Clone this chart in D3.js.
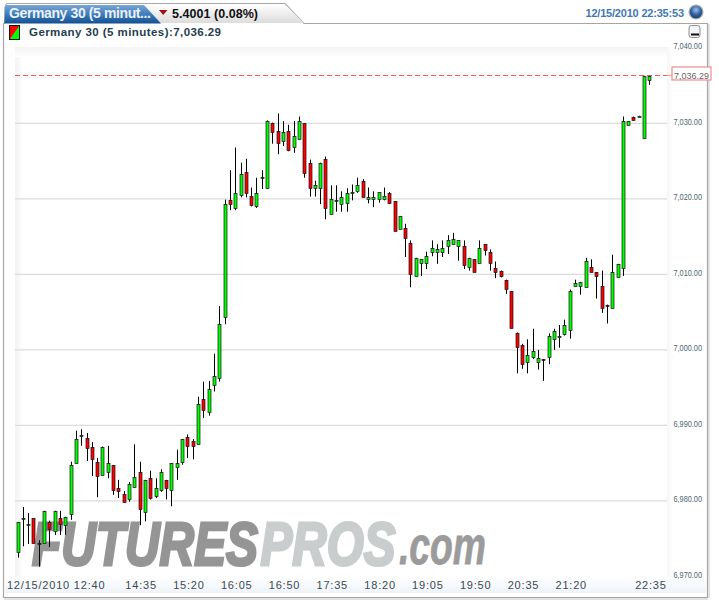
<!DOCTYPE html>
<html><head><meta charset="utf-8">
<script src="https://cdnjs.cloudflare.com/ajax/libs/d3/7.8.5/d3.min.js"></script>
<style>html,body{margin:0;padding:0;background:#fff}svg{display:block}text{font-family:"Liberation Sans",Arial,sans-serif}</style>
</head><body><div id="chart"></div>
<script>
const opens=[6973.3,6977.7,6977.0,6977.7,6974.4,6974.5,6977.2,6976.0,6977.7,6976.8,
6978.3,6985.0,6988.6,6988.4,6987.2,6985.2,6983.5,6983.8,6984.7,6981.7,
6980.9,6980.3,6981.8,6983.8,6978.5,6983.0,6980.7,6981.5,6982.8,6981.5,
6984.5,6985.2,6988.5,6988.0,6987.5,6993.5,6991.8,6995.3,6996.3,7004.3,
7019.8,7018.8,7020.5,7023.5,7020.4,7019.0,7022.8,7021.5,7030.0,7029.0,
7027.6,7029.0,7026.9,7027.9,7030.0,7024.8,7021.5,7021.4,7025.3,7018.0,
7019.8,7019.3,7019.5,7020.8,7021.0,7022.4,7020.0,7020.0,7020.0,7020.0,
7020.8,7019.7,7016.0,7016.2,7014.2,7009.8,7011.5,7011.5,7012.9,7012.9,
7013.0,7013.8,7014.0,7013.8,7013.8,7011.0,7012.0,7011.5,7014.0,7013.0,
7010.8,7010.5,7009.3,7007.8,7002.3,7000.6,6998.4,6999.1,6998.4,6998.8,
6999.1,7001.5,7001.8,7002.1,7002.6,7008.5,7008.5,7008.3,7011.0,7010.3,
7008.5,7006.0,7005.6,7009.7,7010.9,7029.8,7030.9,7030.9,7028.0,7035.7];
const closes=[6977.2,6977.8,6977.0,6974.5,6974.3,6978.7,6976.3,6978.7,6977.0,6977.9,
6984.7,6988.2,6988.7,6987.0,6985.5,6983.3,6987.2,6985.0,6981.5,6981.3,
6979.8,6982.2,6983.2,6979.0,6982.8,6980.4,6981.7,6983.8,6981.7,6985.0,
6985.0,6988.2,6987.3,6987.3,6992.9,6992.0,6994.8,6996.5,7003.4,7019.3,
7019.3,7020.8,7023.3,7020.8,7019.2,7020.8,7022.9,7030.3,7028.9,7027.4,
7028.8,7026.5,7028.3,7030.3,7023.4,7021.4,7021.8,7024.8,7018.8,7020.0,
7019.8,7020.3,7020.8,7020.9,7021.8,7020.3,7020.3,7020.3,7020.9,7020.4,
7019.5,7015.8,7017.7,7014.8,7010.0,7012.2,7012.0,7012.5,7013.5,7013.4,
7013.5,7014.5,7014.7,7014.5,7011.2,7012.2,7010.3,7013.5,7013.2,7011.5,
7010.3,7009.8,7008.0,7002.9,7000.4,6998.1,6999.3,6999.9,6998.9,6998.6,
7001.8,7002.5,7001.9,7003.3,7007.8,7008.8,7009.0,7011.8,7010.3,7009.8,
7005.6,7005.9,7010.3,7011.4,7030.3,7030.3,7030.4,7031.0,7036.3,7036.3];
const highs=[6977.2,6979.2,6978.4,6977.7,6974.8,6978.7,6977.4,6978.7,6978.7,6977.9,
6985.2,6989.3,6989.5,6989.0,6987.8,6985.7,6987.2,6987.3,6984.7,6982.8,
6981.3,6982.5,6987.5,6985.2,6982.8,6984.0,6983.0,6984.2,6982.8,6985.0,
6986.8,6988.2,6988.8,6988.2,6993.8,6995.8,6995.9,6999.5,7005.8,7019.9,
7023.8,7026.8,7024.8,7025.3,7021.5,7022.8,7023.8,7030.4,7030.1,7031.3,
7030.3,7029.8,7030.3,7030.9,7030.0,7025.2,7022.4,7024.8,7025.6,7021.8,
7021.8,7021.0,7021.4,7021.9,7022.8,7022.6,7021.5,7021.0,7020.9,7021.5,
7020.9,7019.7,7017.7,7016.7,7014.5,7012.2,7012.0,7013.0,7014.5,7014.0,
7014.5,7015.2,7015.5,7014.5,7014.5,7012.2,7012.0,7014.5,7014.0,7013.3,
7011.7,7010.5,7009.3,7007.8,7002.3,7000.8,7001.4,7002.8,7000.0,6998.8,
7002.2,7002.8,7003.3,7004.0,7008.0,7009.3,7009.0,7012.2,7012.0,7010.3,
7010.5,7006.0,7012.6,7011.4,7030.9,7030.3,7030.9,7031.0,7036.3,7036.3];
const lows=[6972.5,6974.0,6974.3,6974.4,6971.3,6974.5,6973.9,6975.5,6975.5,6975.5,
6977.5,6985.0,6987.3,6985.3,6983.3,6980.5,6983.5,6983.0,6980.8,6980.4,
6979.8,6979.9,6981.8,6976.8,6977.3,6980.2,6980.4,6981.2,6980.2,6979.3,
6982.8,6984.8,6985.7,6985.5,6987.5,6991.0,6991.3,6994.5,6995.8,7003.4,
7018.5,7018.5,7020.2,7020.2,7019.0,7018.8,7021.3,7021.3,7027.3,7025.9,
7027.0,7026.3,7026.1,7027.9,7022.8,7020.3,7020.3,7019.3,7017.3,7018.0,
7018.3,7018.3,7018.3,7019.8,7020.8,7020.3,7019.4,7018.9,7019.5,7019.8,
7019.3,7015.8,7016.0,7012.3,7008.3,7009.8,7009.8,7010.7,7012.4,7011.4,
7012.3,7012.7,7014.0,7011.8,7010.7,7010.5,7010.3,7011.5,7012.5,7010.5,
7009.5,7009.6,7007.4,7002.9,6996.9,6997.5,6996.9,6998.8,6997.4,6995.9,
6998.1,7000.0,7000.3,7001.9,7001.5,7008.5,7007.3,7008.3,7010.3,7006.8,
7004.9,7003.5,7005.6,7009.7,7009.8,7029.8,7030.4,7030.9,7028.0,7035.1];
const yTicks=[6970,6980,6990,7000,7010,7020,7030,7040];
const xTickIndex=[7,23,32,41,50,59,68,77,86,95,104,119];
const xTickLabels=["12/15/2010 12:40","14:35","15:20","16:05","16:50","17:35","18:20","19:05","19:50","20:35","21:20","22:35"];
const lastPrice=7036.29;
const title="Germany 30 (5 minut...", change="5.4001 (0.08%)", stamp="12/15/2010 22:35:53";
const legendText="Germany 30 (5 minutes):7,036.29";

const W=719,H=603;
const svg=d3.select("#chart").append("svg").attr("width",W).attr("height",H);
const defs=svg.append("defs");
function grad(id,stops,dir){const g=defs.append("linearGradient").attr("id",id);
  if(dir==="h")g.attr("x1",0).attr("x2",1).attr("y1",0).attr("y2",0);else g.attr("x1",0).attr("x2",0).attr("y1",0).attr("y2",1);
  stops.forEach(s=>g.append("stop").attr("offset",s[0]).attr("stop-color",s[1]));}
grad("blueTab",[[0,"#7aa6d4"],[0.5,"#3f7cbc"],[1,"#12508f"]]);
grad("grayTab",[[0,"#ffffff"],[1,"#dcdcdc"]]);
grad("axisBand",[[0,"#ffffff"],[1,"#eef3fa"]]);
grad("leftEdge",[[0,"#f3f3f3"],[1,"#ffffff"]],"h");
grad("topEdge",[[0,"#f3f3f3"],[1,"#ffffff"]]);
grad("rightEdge",[[0,"#f6f6f6"],[1,"#ffffff"]],"h");
const rg=defs.append("radialGradient").attr("id","globe").attr("cx",.5).attr("cy",.35).attr("r",.65);
rg.append("stop").attr("offset",0).attr("stop-color","#9fc0e6");
rg.append("stop").attr("offset",.55).attr("stop-color","#2f5f9f");
rg.append("stop").attr("offset",1).attr("stop-color","#173a6a");

const plot={l:15,r:667,t:47,b:577};
const x=d3.scaleLinear().domain([0,119]).range([17.5,649.4]);
const y=d3.scaleLinear().domain([6970,7040]).range([576.5,47.8]);
const snap=v=>Math.round(v)+.5;

// panel
svg.append("path").attr("d","M3.5 597.5V23.5H4.5L6 4.5Q6 3.5 8 3.5H285L304 23.5H707.5V597.5Z")
  .attr("fill","#fff").attr("stroke","#a6a6a6").attr("stroke-width",1.2);
svg.append("line").attr("x1",4).attr("x2",708).attr("y1",599).attr("y2",599).attr("stroke","#e2e2e2").attr("stroke-width",2);
svg.append("line").attr("x1",709).attr("x2",709).attr("y1",24).attr("y2",598).attr("stroke","#e2e2e2").attr("stroke-width",2);
svg.append("path").attr("d","M7 4.5H285L304 23H7Z").attr("fill","url(#grayTab)");
svg.append("path").attr("d","M4.5 23.5V7Q4.5 5 7 5H144L161 23.5Z").attr("fill","url(#blueTab)");
svg.append("text").attr("x",9).attr("y",17.5).attr("fill","#e9f1fa").attr("font-size",14).attr("font-weight","bold")
  .attr("textLength",142).attr("lengthAdjust","spacing").text(title);
svg.append("path").attr("d","M159 10H167.5L163.2 15Z").attr("fill","#a50f0f");
svg.append("text").attr("x",172).attr("y",17.5).attr("fill","#111").attr("font-size",12.5).attr("font-weight","bold")
  .attr("textLength",86).attr("lengthAdjust","spacing").text(change);
svg.append("text").attr("x",585.5).attr("y",16.5).attr("fill","#3f78b5").attr("font-size",11).attr("font-weight","bold")
  .attr("textLength",98.5).attr("lengthAdjust","spacing").text(stamp);
svg.append("circle").attr("cx",696).attr("cy",12).attr("r",7).attr("fill","url(#globe)").attr("stroke","#b5b5b5").attr("stroke-width",1.2);
svg.append("rect").attr("x",689).attr("y",25.5).attr("width",11).attr("height",12).attr("rx",2.5).attr("fill","#f4f4f4").attr("stroke","#8d8d8d");
svg.append("rect").attr("x",691).attr("y",33.5).attr("width",8).attr("height",2).attr("fill","#111");

// legend row
svg.append("rect").attr("x",9.5).attr("y",25.5).attr("width",10).attr("height",14).attr("fill","#00ff00").attr("stroke","#111");
svg.append("path").attr("d","M10 26H19L10 39Z").attr("fill","#ff0000");
svg.append("text").attr("x",29).attr("y",36).attr("fill","#1f4050").attr("font-size",11.5).attr("font-weight","bold")
  .attr("textLength",192).attr("lengthAdjust","spacing").text(legendText);

// plot background
svg.append("rect").attr("x",plot.l).attr("y",plot.t).attr("width",8).attr("height",plot.b-plot.t).attr("fill","url(#leftEdge)");
svg.append("rect").attr("x",plot.l).attr("y",plot.t).attr("width",plot.r-plot.l).attr("height",10).attr("fill","url(#topEdge)");
svg.append("rect").attr("x",plot.r).attr("y",plot.t).attr("width",6).attr("height",plot.b-plot.t).attr("fill","url(#rightEdge)");
svg.append("rect").attr("x",5).attr("y",plot.b).attr("width",701).attr("height",16).attr("fill","url(#axisBand)");

// gridlines
svg.append("g").selectAll("line").data(yTicks.filter(t=>t>6970&&t<7040)).join("line")
  .attr("x1",plot.l).attr("x2",plot.r).attr("y1",d=>y(d)).attr("y2",d=>y(d))
  .attr("stroke","#dcdcdc").attr("stroke-width",1.3);

// watermark: each word is stretched to its width by a transform
const wmWords=[
 {t:"FUTURES",x0:32,w:227,base:564.5,size:62,fill:"#959595",sw:3},
 {t:"PROS",x0:260.5,w:136,base:564.5,size:62,fill:"#c9cdcd",sw:3},
 {t:".com",x0:399,w:88,base:563.5,size:52,fill:"#9b9b9b",sw:.8}];
const wm=svg.append("g");
wmWords.forEach(o=>{
  const tx=wm.append("text").style("font-family","'Liberation Sans Narrow','Liberation Sans',sans-serif").attr("font-weight","bold").attr("font-style","italic")
    .attr("font-size",o.size).attr("fill",o.fill).attr("stroke",o.fill).attr("stroke-width",o.sw).text(o.t);
  const n=tx.node().getComputedTextLength();
  tx.attr("transform",`translate(${o.x0},${o.base}) scale(${(o.w-1)/n},1)`);
});

// last price line
svg.append("line").attr("x1",plot.l).attr("x2",plot.r).attr("y1",snap(y(lastPrice))-1).attr("y2",snap(y(lastPrice))-1)
  .attr("stroke","#f05a5a").attr("stroke-width",1).attr("stroke-dasharray","5,3");
svg.append("line").attr("x1",plot.r).attr("x2",672).attr("y1",snap(y(lastPrice))-1).attr("y2",snap(y(lastPrice))-1).attr("stroke","#f7a3a3");
svg.append("rect").attr("x",672).attr("y",67).attr("width",39).attr("height",13).attr("fill","#fff").attr("stroke","#f08a8a").attr("stroke-width",1.2);
svg.append("text").attr("x",691.5).attr("y",y(lastPrice)+2.8).attr("text-anchor","middle").attr("fill","#666").attr("font-size",9.5)
  .attr("textLength",35).attr("lengthAdjust","spacingAndGlyphs").text(d3.format(",.2f")(lastPrice));

// candles
const candles=d3.range(opens.length).map(i=>({i,o:opens[i],h:highs[i],l:lows[i],c:closes[i]}));
const cg=svg.append("g").selectAll("g").data(candles).join("g")
  .attr("transform",d=>`translate(${Math.round(x(d.i))+.5},0)`);
cg.append("line").attr("y1",d=>y(d.h)).attr("y2",d=>y(d.l)).attr("stroke","#000").attr("stroke-width",1);
cg.append("rect").attr("x",-1.5).attr("width",3)
  .attr("y",d=>snap(y(Math.max(d.o,d.c))))
  .attr("height",d=>Math.max(snap(y(Math.min(d.o,d.c)))-snap(y(Math.max(d.o,d.c))),1))
  .attr("fill",d=>d.c>=d.o?"#00ff00":"#ff0000").attr("stroke","#111").attr("stroke-width",.7);

// y axis labels
svg.append("g").selectAll("text").data(yTicks).join("text")
  .attr("x",673.5).attr("y",d=>y(d)+1.3).attr("fill","#4c6670").attr("font-size",9)
  .attr("textLength",28.5).attr("lengthAdjust","spacingAndGlyphs").text(d=>d3.format(",.2f")(d));

// x axis labels
svg.append("g").selectAll("text").data(xTickIndex).join("text")
  .attr("x",d=>x(d)+1.5).attr("y",588.5).attr("text-anchor","middle").attr("fill","#3c4a50")
  .attr("font-size",11).attr("letter-spacing",.8).text((d,i)=>xTickLabels[i]);
</script></body></html>
